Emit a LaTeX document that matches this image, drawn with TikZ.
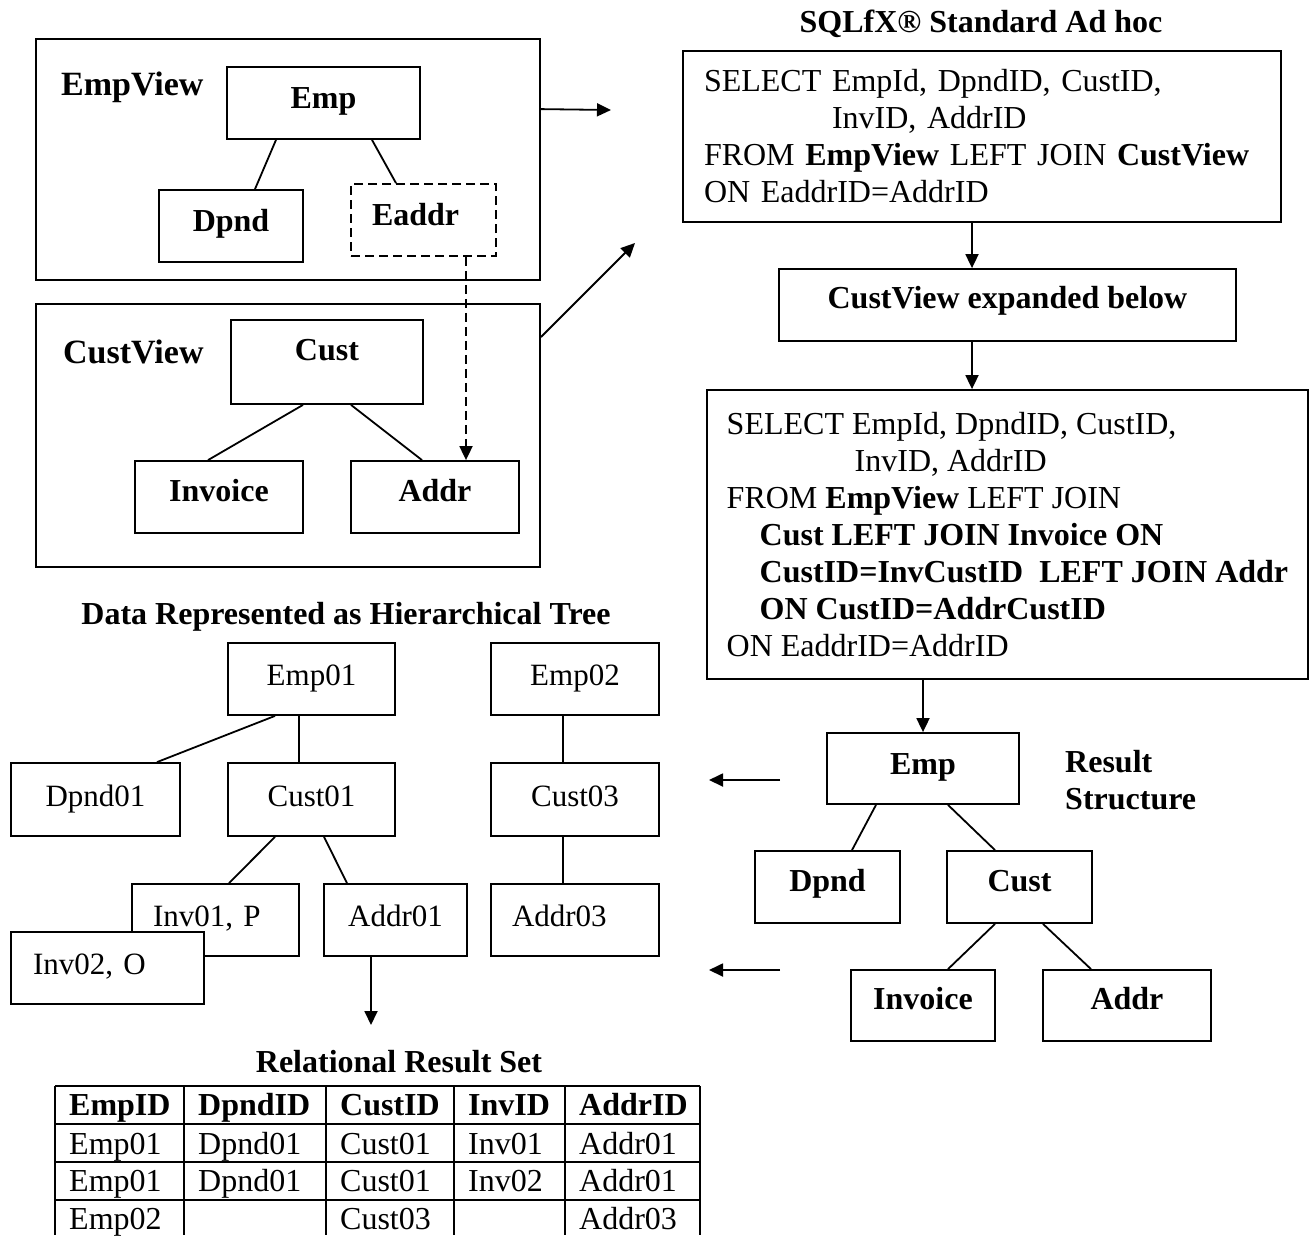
\documentclass[tikz,border=0pt]{standalone}
\usepackage{fontspec}
\setmainfont{Liberation Serif}
\usetikzlibrary{arrows.meta}
\newcommand\fontReg{\fontsize{32}{37}\selectfont}
\newcommand\fontTree{\fontsize{31}{36}\selectfont}
\newcommand\fontBold{\fontsize{32}{37}\selectfont\bfseries}
\newcommand\fontLab{\fontsize{34}{39}\selectfont\bfseries}
\tikzset{
  ln/.style={line width=1.8pt},
  arr/.style={line width=1.8pt, -{Triangle[length=14pt,width=13pt]}},
  vb/.style={draw, line width=1.8pt, fill=white, inner sep=0pt, text height=21pt, font=\fontBold},
  tb/.style={draw, line width=1.8pt, fill=white, inner sep=0pt, text height=21pt, text depth=8pt, font=\fontTree},
  sqlbox/.style={draw, line width=1.8pt, inner ysep=0pt, align=left, font=\fontReg},
  ttl/.style={font=\fontBold, inner sep=0pt, text height=21pt, text depth=0pt},
  lab/.style={font=\fontLab, inner sep=0pt, text height=22.5pt, text depth=0pt},
  cellh/.style={font=\fontBold, inner sep=0pt, text height=21pt, text depth=0pt, anchor=west},
  cell/.style={font=\fontReg, inner sep=0pt, text height=21pt, text depth=0pt, anchor=west},
  dsh/.style={dash pattern=on 9pt off 5pt}
}
\begin{document}
\begin{tikzpicture}[x=1pt,y=-1pt]
\useasboundingbox (0,0) rectangle (1310,1235);

% ---------------- Views ----------------
\node[vb, minimum width=504pt, minimum height=241pt] (empview) at (288,159.5) {};
\node[lab, anchor=west] (empviewlab) at (61,84) {EmpView};
\node[vb, minimum width=193pt, minimum height=72pt, text depth=10pt] (vemp) at (323.5,103) {Emp};
\node[vb, minimum width=144pt, minimum height=72pt, text depth=11pt] (vdpnd) at (231,226) {Dpnd};
\node[vb, dsh, minimum width=145pt, minimum height=72pt, text depth=10pt, text width=103pt, align=left, inner xsep=21pt] (veaddr) at (423.5,220) {Eaddr};
\draw[ln] ([xshift=-47.5pt]vemp.south) -- ([xshift=24pt]vdpnd.north);
\draw[ln] ([xshift=48.5pt]vemp.south) -- ([xshift=-27.5pt]veaddr.north);

\node[vb, minimum width=504pt, minimum height=263pt] (custview) at (288,435.5) {};
\node[lab, anchor=west] (custviewlab) at (63,352) {CustView};
\node[vb, minimum width=192pt, minimum height=84pt, text depth=25pt] (vcust) at (327,362) {Cust};
\node[vb, minimum width=168pt, minimum height=72pt, text depth=12pt] (vinv) at (219,497) {Invoice};
\node[vb, minimum width=168pt, minimum height=72pt, text depth=12pt] (vaddr) at (435,497) {Addr};
\draw[ln] ([xshift=-24pt]vcust.south) -- ([xshift=-11pt]vinv.north);
\draw[ln] ([xshift=24pt]vcust.south) -- ([xshift=-13pt]vaddr.north);

\coordinate (dsx) at ([xshift=42.5pt]veaddr.south);
\draw[arr, dsh] (dsx) -- (dsx |- vaddr.north);

\coordinate (a1end) at (611,110);
\draw[arr] ([yshift=-71pt]empview.north east) -- (a1end);
\coordinate (a2end) at (635,243);
\draw[arr] ([yshift=-34pt]custview.north east) -- (a2end);

% ---------------- SQL ----------------
\node[ttl] (sqltitle) at (981,22) {SQLfX® Standard Ad hoc};
\node[sqlbox, minimum width=598pt, minimum height=171pt, text width=556pt, inner xsep=21pt] (sql1) at (982,136.5)
 {SELECT EmpId, DpndID, CustID,\\
  \hspace*{128pt}InvID, AddrID\\
  FROM \textbf{EmpView} LEFT JOIN \textbf{CustView}\\
  ON EaddrID=AddrID};
\node[vb, minimum width=457pt, minimum height=72pt, text depth=15pt] (mid) at (1007.5,305) {CustView expanded below};
\node[sqlbox, minimum width=601pt, minimum height=289pt, inner xsep=19.5pt] (sql2) at (1007.5,534.5)
 {SELECT EmpId, DpndID, CustID,\\
  \hspace*{128pt}InvID, AddrID\\
  FROM \textbf{EmpView} LEFT JOIN\\
  \hspace*{33pt}\textbf{Cust LEFT JOIN Invoice ON}\\
  \hspace*{33pt}\textbf{CustID=InvCustID\ \ LEFT JOIN Addr}\\
  \hspace*{33pt}\textbf{ON CustID=AddrCustID}\\
  ON EaddrID=AddrID};
\coordinate (s1b) at ([xshift=-10pt]sql1.south);
\draw[arr] (s1b) -- (s1b |- mid.north);
\coordinate (mb) at ([xshift=-35.5pt]mid.south);
\draw[arr] (mb) -- (mb |- sql2.north);

% ---------------- Result structure ----------------
\node[vb, minimum width=192pt, minimum height=71pt, text depth=9pt] (remp) at (923,768.5) {Emp};
\draw[arr] (remp.north |- sql2.south) -- (remp.north);
\node[font=\fontBold, inner sep=0pt, align=left, anchor=north west] (rslab) at (1065,750) {Result\\Structure};
\node[vb, minimum width=145pt, minimum height=72pt, text depth=12pt] (rdpnd) at (827.5,887) {Dpnd};
\node[vb, minimum width=145pt, minimum height=72pt, text depth=12pt] (rcust) at (1019.5,887) {Cust};
\node[vb, minimum width=144pt, minimum height=71pt, text depth=13pt] (rinv) at (923,1005.5) {Invoice};
\node[vb, minimum width=168pt, minimum height=71pt, text depth=13pt] (raddr) at (1127,1005.5) {Addr};
\draw[ln] ([xshift=-47pt]remp.south) -- ([xshift=24.5pt]rdpnd.north);
\draw[ln] ([xshift=25pt]remp.south) -- ([xshift=-24.5pt]rcust.north);
\draw[ln] ([xshift=-24.5pt]rcust.south) -- ([xshift=25pt]rinv.north);
\draw[ln] ([xshift=23.5pt]rcust.south) -- ([xshift=-36pt]raddr.north);
\coordinate (la1s) at (780,780); \coordinate (la1e) at (709,780);
\coordinate (la2s) at (780,970); \coordinate (la2e) at (709,970);
\draw[arr] (la1s) -- (la1e);
\draw[arr] (la2s) -- (la2e);

% ---------------- Hierarchical tree ----------------
\node[ttl] (treetitle) at (346,614) {Data Represented as Hierarchical Tree};
\node[tb, minimum width=167pt, minimum height=72pt] (emp01) at (311.5,679) {Emp01};
\node[tb, minimum width=168pt, minimum height=72pt] (emp02) at (575,679) {Emp02};
\node[tb, minimum width=169pt, minimum height=73pt] (dpnd01) at (95.5,799.5) {Dpnd01};
\node[tb, minimum width=167pt, minimum height=73pt] (cust01) at (311.5,799.5) {Cust01};
\node[tb, minimum width=168pt, minimum height=73pt] (cust03) at (575,799.5) {Cust03};
\node[tb, minimum width=167pt, minimum height=72pt, text width=125pt, align=left, inner xsep=21pt] (inv01) at (215.5,920) {Inv01, P};
\node[tb, minimum width=143pt, minimum height=72pt] (addr01) at (395.5,920) {Addr01};
\node[tb, minimum width=168pt, minimum height=72pt, text width=126pt, align=left, inner xsep=21pt] (addr03) at (575,920) {Addr03};
\node[tb, minimum width=193pt, minimum height=72pt, text width=149pt, align=left, inner xsep=22pt] (inv02) at (107.5,968) {Inv02, O};
\draw[ln] ([xshift=-36.5pt]emp01.south) -- ([xshift=61.5pt]dpnd01.north);
\draw[ln] ([xshift=-12.5pt]emp01.south) -- ([xshift=-12.5pt]cust01.north);
\draw[ln] ([xshift=-36.5pt]cust01.south) -- ([xshift=13.5pt]inv01.north);
\draw[ln] ([xshift=12.5pt]cust01.south) -- ([xshift=-48.5pt]addr01.north);
\draw[ln] ([xshift=-12pt]emp02.south) -- ([xshift=-12pt]cust03.north);
\draw[ln] ([xshift=-12pt]cust03.south) -- ([xshift=-12pt]addr03.north);
\coordinate (a3end) at (371,1025);
\draw[arr] ([xshift=-24.5pt]addr01.south) -- (a3end);

% ---------------- Relational table ----------------
\node[ttl] (tabtitle) at (399,1062) {Relational Result Set};
\foreach \yy in {1086,1124,1162,1200} \draw[ln] (55,\yy) -- (700,\yy);
\foreach \xx in {55,184,326,454,565,700} \draw[ln] (\xx,1086) -- (\xx,1235);
\node[cellh] (h1) at (69,1104.5) {EmpID};
\node[cellh] (h2) at (198,1104.5) {DpndID};
\node[cellh] (h3) at (340,1104.5) {CustID};
\node[cellh] (h4) at (468,1104.5) {InvID};
\node[cellh] (h5) at (579,1104.5) {AddrID};
\node[cell] (r11) at (69,1143.5) {Emp01};
\node[cell] (r12) at (198,1143.5) {Dpnd01};
\node[cell] (r13) at (340,1143.5) {Cust01};
\node[cell] (r14) at (468,1143.5) {Inv01};
\node[cell] (r15) at (579,1143.5) {Addr01};
\node[cell] (r21) at (69,1181) {Emp01};
\node[cell] (r22) at (198,1181) {Dpnd01};
\node[cell] (r23) at (340,1181) {Cust01};
\node[cell] (r24) at (468,1181) {Inv02};
\node[cell] (r25) at (579,1181) {Addr01};
\node[cell] (r31) at (69,1219) {Emp02};
\node[cell] (r33) at (340,1219) {Cust03};
\node[cell] (r35) at (579,1219) {Addr03};
\end{tikzpicture}
\end{document}
